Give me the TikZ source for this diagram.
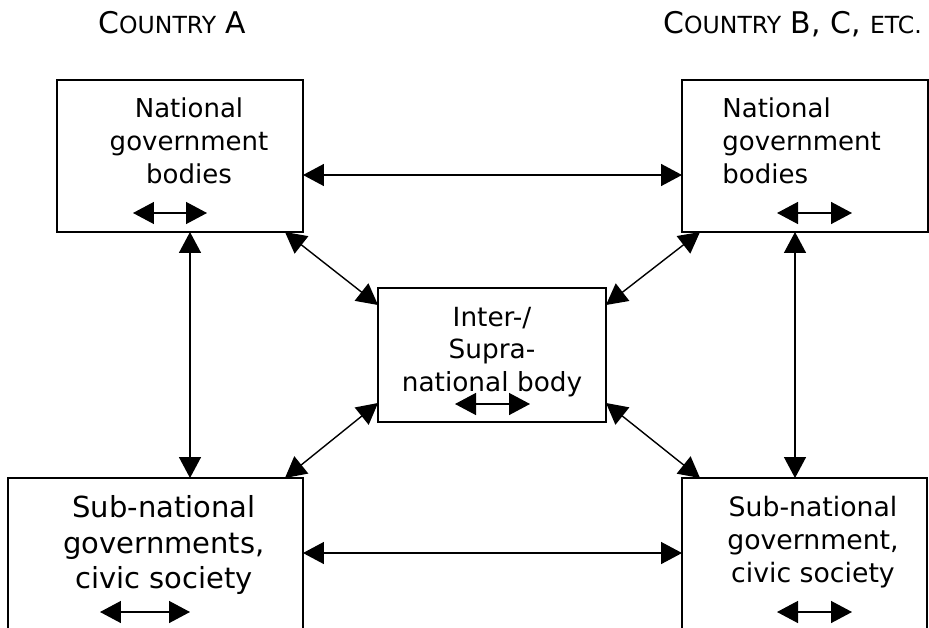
\documentclass[tikz,border=0pt]{standalone}
\usepackage{fontspec}
\setmainfont{DejaVu Sans}
\usetikzlibrary{arrows.meta}
\newcommand{\smcp}[1]{{\fontsize{13.4}{15}\selectfont #1}}

\begin{document}
\begin{tikzpicture}[x=0.02cm,y=-0.02cm,>={Triangle[length=0.42cm,width=0.44cm]},line cap=round,
  box/.style={draw,line width=1pt,inner sep=0pt,outer sep=0pt},
  txt/.style={inner sep=0pt,align=center},
  link/.style={<->,line width=0.8pt},
  head/.style={inner sep=0pt,anchor=base west,font=\fontsize{17}{20}\selectfont}]
\useasboundingbox (0,0) rectangle (929,628);
\clip (0,0) rectangle (929,628);
% headings
\node[head] (hda) at (98,34) {C\smcp{OUNTRY} A};
\node[head] (hdb) at (663,34) {C\smcp{OUNTRY} B, C, \smcp{ETC.}};
% boxes
\node[box,minimum width=4.92cm,minimum height=3.04cm] (tl) at (180,156) {};
\node[box,minimum width=4.92cm,minimum height=3.04cm] (tr) at (805,156) {};
\node[box,minimum width=4.56cm,minimum height=2.68cm] (mid) at (492,355) {};
\node[box,minimum width=5.9cm,minimum height=6cm] (bl) at (155.5,628) {};
\node[box,minimum width=4.9cm,minimum height=6cm] (br) at (804.5,628) {};
% texts
\node[txt,font=\fontsize{14.8}{18.7}\selectfont] (tltxt) at (189,141) {National\\government\\bodies};
\node[txt,align=left,anchor=west,font=\fontsize{14.8}{18.7}\selectfont] (trtxt) at (722,141) {National\\government\\bodies};
\node[txt,font=\fontsize{15}{18.5}\selectfont] (midtxt) at (492,352) {Inter-/\\Supra-\\national body};
\node[txt,font=\fontsize{16.5}{20}\selectfont] (bltxt) at (164,545) {Sub-national\\governments,\\civic society};
\node[txt,font=\fontsize{15.2}{18.9}\selectfont] (brtxt) at (813,542) {Sub-national\\government,\\civic society};
% small arrows inside the boxes
\coordinate (tla) at (133,213); \coordinate (tlb) at (207,213);
\coordinate (tra) at (777,213); \coordinate (trb) at (852,213);
\coordinate (mida) at (455,404); \coordinate (midb) at (530,404);
\coordinate (bla) at (100,612); \coordinate (blb) at (190,612);
\coordinate (bra) at (777,612); \coordinate (brb) at (852,612);
\draw[link] (tla) -- (tlb);
\draw[link] (tra) -- (trb);
\draw[link] (mida) -- (midb);
\draw[link] (bla) -- (blb);
\draw[link] (bra) -- (brb);
% links between the boxes
\draw[link] ([yshift=-0.38cm]tl.east) -- ([yshift=-0.38cm]tl.east -| tr.west);
\draw[link] ([yshift=1.5cm]bl.east) -- ([yshift=1.5cm]bl.east -| br.west);
\draw[link] ([xshift=0.2cm]tl.south) -- ([xshift=0.2cm]tl.south |- bl.north);
\draw[link] ([xshift=-0.2cm]tr.south) -- ([xshift=-0.2cm]tr.south |- br.north);
\draw[link] ([xshift=-0.36cm]tl.south east) -- ([yshift=-0.34cm]mid.north west);
\draw[link] ([xshift=0.36cm]tr.south west) -- ([yshift=-0.34cm]mid.north east);
\draw[link] ([xshift=-0.36cm]bl.north east) -- ([yshift=0.38cm]mid.south west);
\draw[link] ([xshift=0.36cm]br.north west) -- ([yshift=0.38cm]mid.south east);
\end{tikzpicture}
\end{document}
